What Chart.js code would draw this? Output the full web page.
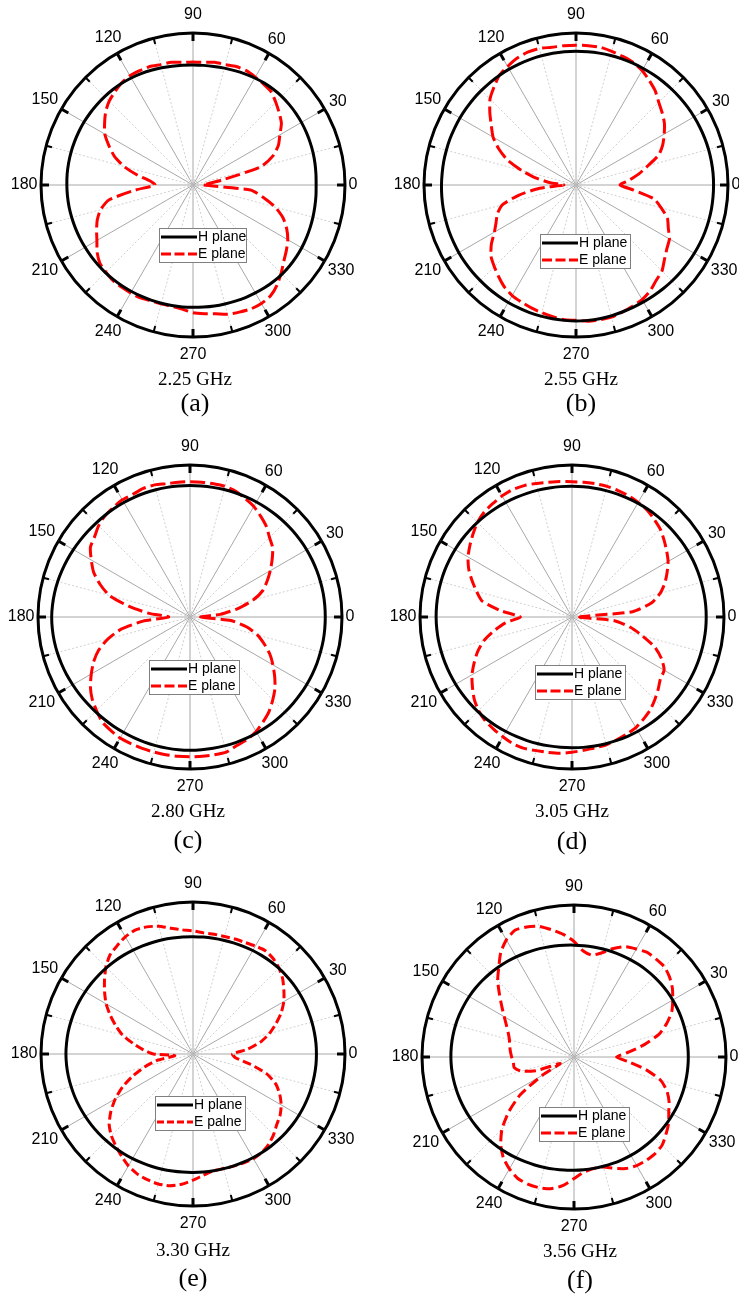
<!DOCTYPE html>
<html>
<head>
<meta charset="utf-8">
<script src="https://cdn.jsdelivr.net/npm/chart.js@4.4.1/dist/chart.umd.min.js"></script>
<style>
  html, body { margin: 0; padding: 0; background: #fff; }
  body { width: 739px; height: 1297px; position: relative; overflow: hidden; }
  canvas.plot { position: absolute; }
  .cap { position: absolute; transform: translate(-50%, -50%); font-family: "Liberation Serif", "Times New Roman", serif;
         color: #000; white-space: nowrap; line-height: 1; }
  .freq { font-size: 19px; }
  .tag { font-size: 26px; }
</style>
</head>
<body>
<script>
// angles of the samples, counter-clockwise from 0 deg (right)
const ANGLES = [0, 5, 10, 15, 20, 25, 30, 35, 40, 45, 50, 55, 60, 65, 70, 75, 80, 85,
                90, 95, 100, 105, 110, 115, 120, 125, 130, 135, 140, 145, 150, 155, 160, 165, 170, 175,
                180, 185, 190, 195, 200, 205, 210, 215, 220, 225, 230, 235, 240, 245, 250, 255, 260, 265,
                270, 275, 280, 285, 290, 295, 300, 305, 310, 315, 320, 325, 330, 335, 340, 345, 350, 355];
const AXIS_ANGLES = [0, 30, 60, 90, 120, 150, 180, 210, 240, 270, 300, 330];
const AXIS_LABELS = ['0', '30', '60', '90', '120', '150', '180', '210', '240', '270', '300', '330'];
const FREQS = ['2.25 GHz', '2.55 GHz', '2.80 GHz', '3.05 GHz', '3.30 GHz', '3.56 GHz'];
const TAGS = ['(a)', '(b)', '(c)', '(d)', '(e)', '(f)'];
const H_NAMES = ['H plane', 'H plane', 'H plane', 'H plane', 'H plane', 'H plane'];
const E_NAMES = ['E plane', 'E plane', 'E plane', 'E plane', 'E palne', 'E plane'];

// normalised radius (outer ring = 1), one value every 5 deg
const H_A = [.810,.812,.815,.818,.820,.822,.824,.825, .825,.825,.822,.818,.813,.807,.801,.796,
             .792,.790,.790,.791,.794,.798,.803,.808, .813,.817,.820,.822,.824,.826,.828,.829,
             .830,.831,.831,.831,.830,.829,.828,.826, .824,.822,.820,.818,.816,.815,.813,.811,
             .809,.807,.806,.805,.805,.805,.805,.806, .808,.810,.813,.817,.820,.824,.827,.829,
             .829,.828,.826,.823,.820,.817,.814,.812];
const E_A = [.07,.10,.20,.46,.56,.62,.66,.71, .74,.77,.80,.81,.82,.83,.83,.82, .82,.81,.81,.81,.82,.82,.83,.83,
             .83,.82,.80,.78,.75,.71,.67,.61, .55,.47,.37,.28,.25,.38,.56,.63, .67,.70,.73,.77,.80,.81,.82,.82,
             .82,.82,.81,.81,.81,.82,.84,.85, .86,.88,.89,.90,.90,.89,.86,.82, .78,.75,.72,.68,.63,.56,.47,.38];

const H_B = [.905,.905,.904,.903,.901,.899,.897,.895, .893,.891,.889,.887,.885,.884,.883,.882,
             .881,.880,.880,.880,.880,.880,.880,.880, .880,.880,.880,.880,.881,.881,.882,.882,
             .883,.883,.884,.884,.885,.886,.887,.888, .889,.889,.890,.890,.890,.890,.891,.891,
             .892,.892,.893,.893,.894,.894,.895,.894, .893,.891,.889,.888,.888,.889,.891,.893,
             .895,.897,.899,.901,.903,.904,.905,.905];
const E_B = [.29,.35,.42,.49,.58,.63,.67,.71, .74,.77,.81,.84,.87,.89,.90,.91, .92,.92,.92,.92,.92,.93,.93,.92,
             .90,.88,.84,.80,.74,.68,.63,.56, .48,.37,.27,.17,.08,.24,.38,.50, .55,.58,.62,.68,.73,.76,.79,.82,
             .84,.85,.86,.87,.88,.89,.89,.90, .90,.90,.89,.88,.87,.85,.82,.80, .76,.73,.71,.67,.64,.58,.52,.38];

const H_C = [.890,.890,.890,.889,.888,.887,.886,.884, .882,.880,.878,.876,.874,.872,.870,.868,
             .866,.865,.865,.865,.866,.867,.868,.869, .870,.871,.872,.874,.877,.881,.886,.891,
             .896,.901,.905,.908,.910,.909,.907,.904, .900,.896,.891,.887,.883,.880,.878,.877,
             .876,.876,.876,.876,.876,.876,.876,.876, .877,.878,.879,.880,.881,.882,.883,.884,
             .885,.886,.887,.888,.889,.889,.890,.890];
const E_C = [.07,.20,.32,.43,.51,.56,.61,.66, .71,.74,.78,.81,.84,.86,.88,.89, .89,.89,.89,.89,.89,.90,.90,.89,
             .89,.88,.87,.85,.82,.80,.75,.70, .63,.55,.41,.27,.14,.31,.46,.56, .64,.70,.75,.80,.84,.87,.90,.91,
             .92,.92,.92,.92,.92,.92,.92,.92, .92,.92,.90,.89,.87,.84,.81,.77, .73,.68,.63,.58,.52,.46,.38,.27];

const H_D = [.883,.883,.882,.881,.880,.879,.877,.875, .873,.871,.869,.867,.865,.863,.862,.861,
             .860,.860,.860,.861,.862,.864,.866,.868, .871,.874,.877,.880,.883,.886,.888,.890,
             .892,.893,.894,.894,.894,.893,.892,.890, .888,.886,.884,.882,.880,.878,.876,.873,
             .870,.867,.865,.863,.861,.860,.860,.861, .862,.863,.864,.866,.868,.870,.872,.874,
             .876,.877,.878,.879,.880,.881,.882,.883];
const E_D = [.05,.40,.53,.60,.65,.69,.73,.76, .79,.82,.84,.86,.87,.88,.885,.89, .89,.89,.89,.895,.90,.91,.92,.925,
             .92,.91,.90,.88,.85,.82,.79,.75, .70,.65,.60,.47,.34,.44,.52,.60, .66,.71,.76,.80,.84,.87,.89,.90,
             .91,.92,.92,.91,.905,.90,.89,.88, .875,.87,.86,.85,.84,.82,.80,.77, .74,.71,.70,.65,.58,.48,.39,.28];

const H_E = [.812,.812,.811,.810,.809,.808,.806,.804, .801,.798,.794,.790,.786,.782,.778,.775,
             .773,.772,.772,.773,.775,.778,.781,.785, .789,.794,.799,.804,.809,.814,.819,.824,
             .828,.831,.834,.835,.836,.835,.833,.830, .827,.823,.819,.815,.811,.807,.803,.799,
             .795,.791,.788,.785,.782,.780,.779,.779, .780,.781,.783,.785,.788,.791,.794,.797,
             .800,.803,.805,.807,.809,.810,.811,.812];
const E_E = [.26,.36,.45,.52,.58,.64,.69,.73, .77,.80,.82,.83,.82,.81,.805,.80, .80,.80,.81,.82,.84,.87,.89,.90,
             .89,.87,.85,.81,.76,.71,.66,.60, .54,.48,.40,.33,.26,.12,.24,.33, .42,.51,.59,.66,.72,.76,.79,.82,
             .85,.87,.88,.885,.88,.86,.83,.80, .78,.78,.785,.79,.795,.79,.775,.75, .72,.70,.67,.63,.58,.50,.38,.28];

const H_F = [.752,.752,.752,.752,.752,.751,.750,.749, .748,.746,.744,.742,.740,.738,.737,.736,
             .735,.735,.736,.738,.741,.745,.750,.755, .761,.767,.773,.779,.785,.791,.796,.800,
             .804,.807,.809,.810,.810,.809,.807,.804, .801,.797,.793,.789,.785,.780,.775,.770,
             .765,.760,.756,.752,.749,.747,.745,.744, .744,.744,.745,.746,.747,.748,.749,.750,
             .750,.751,.751,.752,.752,.752,.752,.752];
const E_F = [.28,.36,.47,.58,.65,.71,.75,.79, .82,.84,.84,.84,.82,.80,.76,.71, .68,.70,.76,.81,.85,.89,.91,.92,
             .89,.84,.77,.71,.64,.58,.53,.49, .46,.44,.43,.42,.41,.40,.40,.36, .26,.10,.24,.43,.56,.67,.75,.81,
             .85,.88,.89,.89,.88,.85,.80,.76, .745,.75,.78,.81,.825,.83,.83,.82, .79,.76,.72,.69,.65,.59,.48,.36];

// layout of the six panels (pixel positions, not data)
const PANELS = [
  { cx: 193, cy: 185,  h: H_A, e: E_A, dash: [15, 5], ldash: [10, 3.5], leg: [-34, 43, 87, 34], fx: 195, fy: 378,  ty: 403 },
  { cx: 576, cy: 185,  h: H_B, e: E_B, dash: [15, 5], ldash: [10, 3.5], leg: [-36, 49, 90, 34], fx: 581, fy: 378,  ty: 403 },
  { cx: 190, cy: 617,  h: H_C, e: E_C, dash: [15, 5], ldash: [10, 3.5], leg: [-41, 43, 90, 34], fx: 188, fy: 810,  ty: 840 },
  { cx: 572, cy: 617,  h: H_D, e: E_D, dash: [12, 5], ldash: [10, 3.5], leg: [-37, 48, 90, 34], fx: 572, fy: 810,  ty: 841 },
  { cx: 193, cy: 1054, h: H_E, e: E_E, dash: [9, 4],  ldash: [7, 3],    leg: [-38, 42, 90, 34], fx: 193, fy: 1249, ty: 1278 },
  { cx: 574, cy: 1057, h: H_F, e: E_F, dash: [11, 5], ldash: [10, 3.5], leg: [-35, 50, 90, 34], fx: 580, fy: 1250, ty: 1280 }
];

const N = ANGLES.length;
// radar runs clockwise from the start angle, so index i sits at angle -5*i
const srcIndex = i => (N - i) % N;
const chartAngles = ANGLES.map((_, i) => ANGLES[srcIndex(i)]);
const chartIndex = a => chartAngles.indexOf(a);

const framePlugin = {
  id: 'frame',
  afterDatasetsDraw(chart, args, opts) {
    const r = chart.scales.r;
    const ctx = chart.ctx;
    const R = r.drawingArea;
    ctx.save();

    // ticks on the outer ring, pointing inwards
    ctx.strokeStyle = '#000';
    ctx.setLineDash([]);
    chartAngles.forEach((a, i) => {
      if (a % 15 !== 0) return;
      const major = a % 30 === 0;
      const p0 = r.getPointPosition(i, R);
      const p1 = r.getPointPosition(i, R - (major ? 8 : 6));
      ctx.lineWidth = major ? 3 : 2;
      ctx.beginPath();
      ctx.moveTo(p0.x, p0.y);
      ctx.lineTo(p1.x, p1.y);
      ctx.stroke();
    });

    // angle labels
    ctx.font = '16px "Liberation Sans", Arial, sans-serif';
    ctx.fillStyle = '#000';
    ctx.textAlign = 'center';
    ctx.textBaseline = 'middle';
    AXIS_ANGLES.forEach((a, k) => {
      const txt = AXIS_LABELS[k];
      const w = ctx.measureText(txt).width;
      const rad = a * Math.PI / 180;
      const s = Math.abs(Math.sin(rad));
      const ext = Math.abs(Math.cos(rad)) * w / 2 + s * 8;
      const gap = 3.5 + 6.5 * Math.pow(s, 16);
      const p = r.getPointPosition(chartIndex(a), R + gap + ext);
      ctx.fillText(txt, p.x, p.y);
    });

    // legend box
    const [dx, dy, lw, lh] = opts.leg;
    const x0 = Math.round(r.xCenter + dx), y0 = Math.round(r.yCenter + dy);
    ctx.fillStyle = '#fff';
    ctx.fillRect(x0, y0, lw, lh);
    ctx.strokeStyle = '#808080';
    ctx.lineWidth = 1;
    ctx.strokeRect(x0 + 0.5, y0 + 0.5, lw, lh);

    const rows = [
      { name: opts.hName, color: '#000', dash: [], y: y0 + 9 },
      { name: opts.eName, color: '#ff0000', dash: opts.ldash, y: y0 + 26 }
    ];
    ctx.font = '14px "Liberation Sans", Arial, sans-serif';
    ctx.textAlign = 'left';
    rows.forEach(row => {
      ctx.strokeStyle = row.color;
      ctx.lineWidth = 3;
      ctx.setLineDash(row.dash);
      ctx.beginPath();
      ctx.moveTo(x0 + 2, row.y);
      ctx.lineTo(x0 + 38, row.y);
      ctx.stroke();
      ctx.setLineDash([]);
      ctx.fillStyle = '#000';
      ctx.fillText(row.name, x0 + 39, row.y + 0.5);
    });
    ctx.restore();
  }
};

function addCaption(text, cls, x, y) {
  const d = document.createElement('div');
  d.className = 'cap ' + cls;
  d.textContent = text;
  d.style.left = x + 'px';
  d.style.top = y + 'px';
  document.body.appendChild(d);
}

PANELS.forEach((p, k) => {
  const cv = document.createElement('canvas');
  cv.className = 'plot';
  cv.width = 380;
  cv.height = 370;
  cv.style.width = '380px';
  cv.style.height = '370px';
  cv.style.left = (p.cx - 190) + 'px';
  cv.style.top = (p.cy - 185) + 'px';
  document.body.appendChild(cv);

  new Chart(cv, {
    type: 'radar',
    data: {
      labels: chartAngles.map(String),
      datasets: [
        {
          label: H_NAMES[k],
          data: ANGLES.map((_, i) => p.h[srcIndex(i)]),
          borderColor: '#000',
          borderWidth: 3,
          fill: false,
          tension: 0.3,
          pointRadius: 0,
          pointHoverRadius: 0
        },
        {
          label: E_NAMES[k],
          data: ANGLES.map((_, i) => p.e[srcIndex(i)]),
          borderColor: '#ff0000',
          borderWidth: 3,
          borderDash: p.dash,
          borderJoinStyle: 'round',
          fill: false,
          tension: 0.2,
          pointRadius: 0,
          pointHoverRadius: 0
        }
      ]
    },
    options: {
      responsive: false,
      animation: false,
      devicePixelRatio: 1,
      events: [],
      layout: { padding: { left: 38, right: 38, top: 33, bottom: 33 } },
      plugins: {
        legend: { display: false },
        tooltip: { enabled: false },
        frame: { leg: p.leg, ldash: p.ldash, hName: H_NAMES[k], eName: E_NAMES[k] }
      },
      scales: {
        r: {
          min: 0,
          max: 1,
          startAngle: 90,
          ticks: { display: false, stepSize: 1 },
          grid: { circular: true, color: '#000', lineWidth: 3 },
          angleLines: {
            color: c => chartAngles[c.index] % 30 === 0 ? '#a8a8a8' : (chartAngles[c.index] % 15 === 0 ? '#d0d0d0' : 'rgba(0,0,0,0)'),
            lineWidth: c => chartAngles[c.index] % 15 === 0 ? 1 : 0,
            borderDash: c => chartAngles[c.index] % 30 === 0 ? [] : [2, 2]
          },
          pointLabels: { display: false }
        }
      }
    },
    plugins: [framePlugin]
  });

  addCaption(FREQS[k], 'freq', p.fx, p.fy);
  addCaption(TAGS[k], 'tag', p.fx, p.ty);
});
</script>
</body>
</html>
